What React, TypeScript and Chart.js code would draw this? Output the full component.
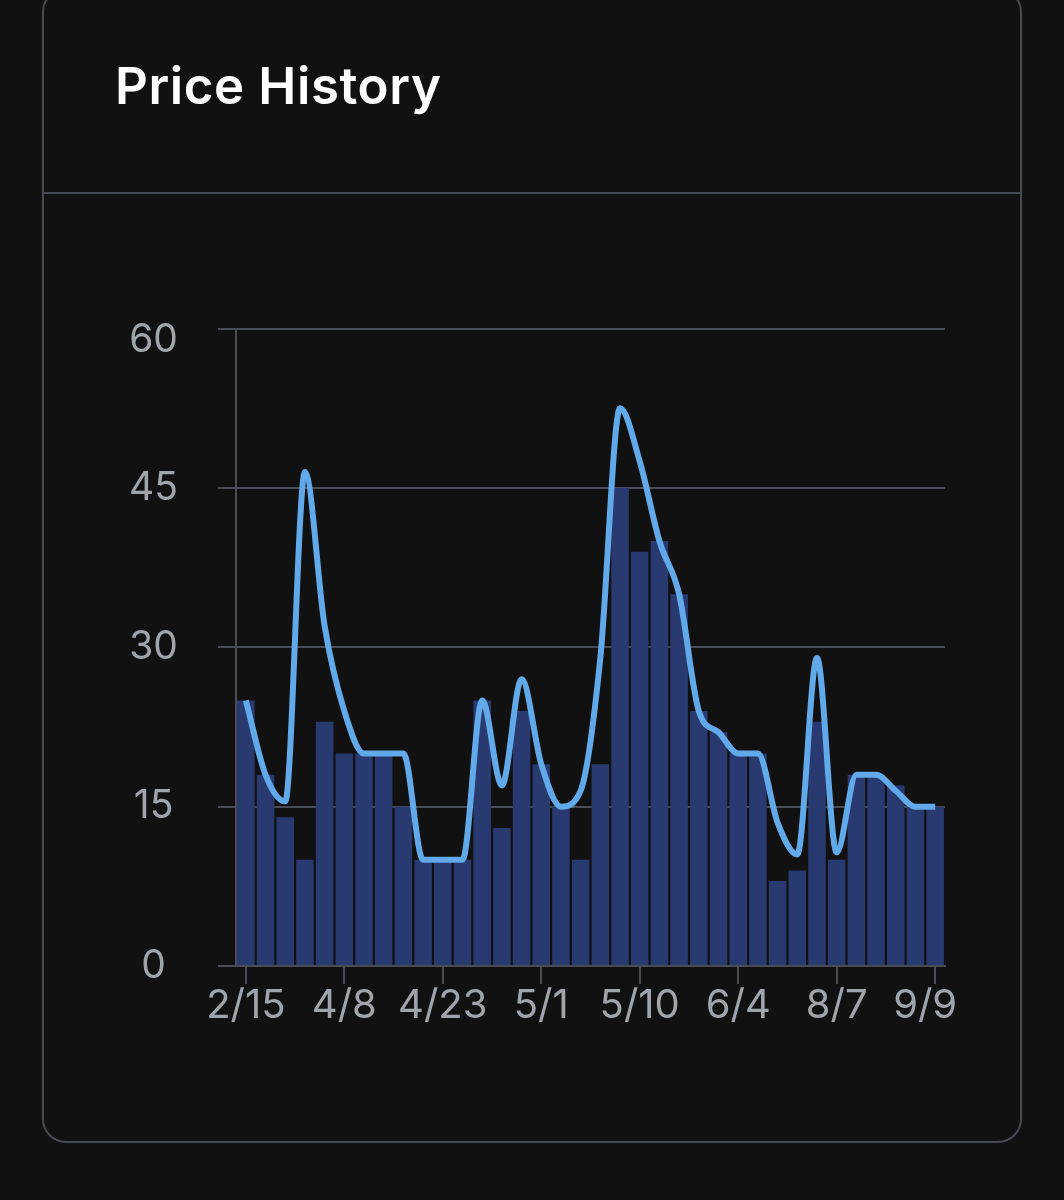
import { useEffect, useRef } from 'react';
import { Chart, registerables } from 'chart.js';

Chart.register(...registerables);

const title = 'Price History';

// 36 categories; only every fifth date is printed on the axis
const categories = [
  '2/15', '', '', '', '',
  '4/8', '', '', '', '',
  '4/23', '', '', '', '',
  '5/1', '', '', '', '',
  '5/10', '', '', '', '',
  '6/4', '', '', '', '',
  '8/7', '', '', '', '',
  '9/9',
];

const barValues = [
  25, 18, 14, 10, 23, 20, 20, 20, 15, 10, 10, 10,
  25, 13, 24, 19, 15, 10, 19, 45, 39, 40, 35, 24,
  22, 20, 20, 8, 9, 23, 10, 18, 18, 17, 15, 15,
];

const lineValues = [
  25, 18, 15.5, 46.5, 32, 24, 20, 20, 20, 10, 10, 10,
  25, 17, 27, 19, 15, 16.5, 29, 52.5, 47.5, 40, 35, 24,
  22, 20, 20, 13.5, 10.5, 29, 10.7, 18, 18, 16.5, 15, 15,
];

const yMin = 0;
const yMax = 60;
const yStep = 15;

const BG = '#111111';
const BORDER = '#474a52';
const GRID = '#4a4d55';
const LABEL = '#a0a5ac';
const BAR = '#293a70';
const LINE = '#62a9ea';
const FONT = 'Inter, "Noto Sans", sans-serif';

function PriceChart() {
  const ref = useRef<HTMLCanvasElement | null>(null);
  useEffect(() => {
    if (!ref.current) return;
    const last = categories.length - 1;
    const chart = new Chart(ref.current, {
      type: 'bar',
      data: {
        labels: categories,
        datasets: [
          {
            type: 'line',
            data: lineValues,
            borderColor: LINE,
            borderWidth: 6,
            pointRadius: 0,
            cubicInterpolationMode: 'monotone',
            fill: false,
            order: 0,
          } as any,
          {
            type: 'bar',
            data: barValues,
            backgroundColor: BAR,
            borderWidth: 0,
            categoryPercentage: 1,
            barPercentage: 0.89,
            order: 1,
          },
        ],
      },
      options: {
        animation: false,
        responsive: false,
        devicePixelRatio: 1,
        layout: { padding: { top: 27, right: 35, left: 0, bottom: 0 } },
        plugins: { legend: { display: false }, tooltip: { enabled: false } },
        scales: {
          x: {
            offset: true,
            grid: {
              offset: false,
              drawOnChartArea: false,
              drawTicks: true,
              tickLength: 18,
              color: GRID,
              lineWidth: 2,
            },
            border: { display: true, color: GRID, width: 2 },
            ticks: {
              autoSkip: false,
              maxRotation: 0,
              minRotation: 0,
              padding: 2,
              color: LABEL,
              font: { family: FONT, size: 40, lineHeight: 1 },
              callback: (_v: any, i: number) =>
                categories[i] ? (i === last ? categories[i] + '\u2002' : categories[i]) : null,
            },
            afterFit: (s: any) => {
              s.height = 74;
            },
          },
          y: {
            min: yMin,
            max: yMax,
            grid: {
              color: GRID,
              lineWidth: 2,
              drawTicks: true,
              tickLength: 18,
            },
            border: { display: true, color: GRID, width: 2 },
            ticks: {
              stepSize: yStep,
              padding: 40,
              crossAlign: 'center',
              color: LABEL,
              font: (ctx: any) => ({
                family: FONT,
                size: 39,
                lineHeight: ctx.tick && ctx.tick.value === yMax ? 0.58 : 1.2,
              }),
              callback: (v: any) => (v === yMax ? ['', String(v)] : String(v)),
            },
            afterFit: (s: any) => {
              s.width = 136;
            },
          },
        },
      } as any,
    });
    return () => chart.destroy();
  }, []);
  return (
    <canvas
      ref={ref}
      width={880}
      height={774}
      style={{ position: 'absolute', left: 100, top: 266, width: 880, height: 774 }}
    />
  );
}

export default function App() {
  return (
    <div style={{ position: 'fixed', left: 0, top: 0, width: 1064, height: 1200, background: BG, overflow: 'hidden' }}>
      <div
        style={{
          position: 'absolute',
          left: 42,
          top: -12,
          width: 980,
          height: 1155,
          boxSizing: 'border-box',
          border: `2px solid ${BORDER}`,
          borderRadius: 24,
        }}
      />
      <div style={{ position: 'absolute', left: 42, top: 192, width: 980, height: 2, background: BORDER }} />
      <div
        style={{
          position: 'absolute',
          left: 115,
          top: 60,
          fontFamily: FONT,
          fontSize: 51,
          fontWeight: 600,
          letterSpacing: '0.6px',
          lineHeight: '52px',
          color: '#ffffff',
          whiteSpace: 'nowrap',
        }}
      >
        {title}
      </div>
      <PriceChart />
    </div>
  );
}
